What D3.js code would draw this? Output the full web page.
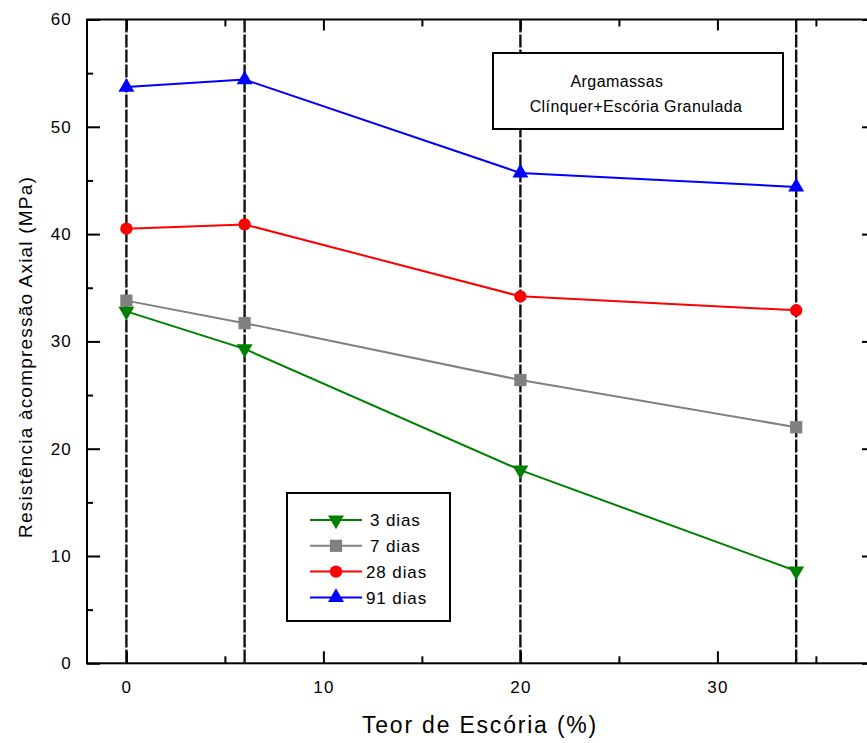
<!DOCTYPE html>
<html>
<head>
<meta charset="utf-8">
<script src="https://cdn.jsdelivr.net/npm/d3@7"></script>
<style>
  html, body { margin: 0; padding: 0; background: #fff; }
  svg { display: block; font-family: Arial, "Liberation Sans", sans-serif; }
</style>
</head>
<body>
<svg id="chart" width="867" height="743"></svg>
<script>
// Slag content (%) of each mortar mix
const slagContent = [0, 6, 20, 34];

// Axial compressive strength (MPa) by curing age
const days3  = [32.8, 29.3, 18.0, 8.6];
const days7  = [33.8, 31.7, 26.4, 22.0];
const days28 = [40.5, 40.9, 34.2, 32.9];
const days91 = [53.7, 54.4, 45.7, 44.4];

const seriesNames   = ["3 dias", "7 dias", "28 dias", "91 dias"];
const seriesColors  = ["#008000", "#808080", "#ff0000", "#0000ff"];
const seriesSymbols = ["triangleDown", "square", "circle", "triangleUp"];

const xMajorTicks = [0, 10, 20, 30];
const xMinorTicks = [5, 15, 25, 35];
const yMajorTicks = [0, 10, 20, 30, 40, 50, 60];
const yMinorTicks = [5, 15, 25, 35, 45, 55];

const titleLines = ["Argamassas", "Clínquer+Escória Granulada"];
const xTitle = "Teor de Escória (%)";
const yTitle = "Resistência àcompressão Axial (MPa)";

const svg = d3.select("#chart");
const plotLeft = 87, plotRight = 875, plotTop = 19.5, plotBottom = 663.3;

const x = d3.scaleLinear().domain([-2, 38]).range([plotLeft, plotRight]);
const y = d3.scaleLinear().domain([0, 60]).range([plotBottom, plotTop]);

// Vertical dashed guides at each mix composition
svg.append("g").selectAll("line")
  .data(slagContent)
  .join("line")
  .attr("x1", d => x(d)).attr("x2", d => x(d))
  .attr("y1", plotTop).attr("y2", plotBottom)
  .attr("stroke", "#111")
  .attr("stroke-width", 2.4)
  .attr("stroke-dasharray", "13,2");

// Frame
svg.append("rect")
  .attr("x", plotLeft).attr("y", plotTop)
  .attr("width", plotRight - plotLeft).attr("height", plotBottom - plotTop)
  .attr("fill", "none").attr("stroke", "#000").attr("stroke-width", 2);

function tickGroup(axisFn, scale, values, size, translate, withLabels) {
  const ax = axisFn(scale).tickValues(values).tickSize(size).tickSizeOuter(0);
  if (!withLabels) ax.tickFormat("");
  const g = svg.append("g").attr("transform", translate).call(ax);
  g.select(".domain").remove();
  g.selectAll(".tick line").attr("stroke", "#000").attr("stroke-width", 2);
  return g;
}

// Left axis (labelled) + minor ticks
const gl = tickGroup(d3.axisLeft, y, yMajorTicks, -13, `translate(${plotLeft},0)`, true);
gl.selectAll(".tick text").attr("x", -15).attr("font-size", 17).attr("letter-spacing", 1.2)
  .attr("fill", "#000").attr("font-family", "Arial, 'Liberation Sans', sans-serif");
tickGroup(d3.axisLeft, y, yMinorTicks, -6, `translate(${plotLeft},0)`, false);
// Right axis ticks
tickGroup(d3.axisRight, y, yMajorTicks, -13, `translate(${plotRight},0)`, false);
tickGroup(d3.axisRight, y, yMinorTicks, -6, `translate(${plotRight},0)`, false);
// Bottom axis (labelled) + minor ticks
const gb = tickGroup(d3.axisBottom, x, xMajorTicks, -12, `translate(0,${plotBottom})`, true);
gb.selectAll(".tick text").attr("y", 18).attr("dy", "0.71em").attr("font-size", 17).attr("letter-spacing", 1.2)
  .attr("fill", "#000").attr("font-family", "Arial, 'Liberation Sans', sans-serif");
tickGroup(d3.axisBottom, x, xMinorTicks, -7, `translate(0,${plotBottom})`, false);
// Top axis ticks
tickGroup(d3.axisTop, x, xMajorTicks, -11, `translate(0,${plotTop})`, false);
tickGroup(d3.axisTop, x, xMinorTicks, -7, `translate(0,${plotTop})`, false);

// Axis titles
svg.append("text")
  .attr("x", 480).attr("y", 733)
  .attr("text-anchor", "middle").attr("font-size", 23).attr("letter-spacing", 1.8)
  .text(xTitle);
svg.append("text")
  .attr("transform", `translate(32,357) rotate(-90)`)
  .attr("text-anchor", "middle").attr("font-size", 19).attr("letter-spacing", 1.2)
  .text(yTitle);

// Series
const allSeries = [days3, days7, days28, days91].map((vals, i) => ({
  name: seriesNames[i], color: seriesColors[i], symbol: seriesSymbols[i],
  points: vals.map((v, j) => ({ x: slagContent[j], y: v }))
}));

const line = d3.line().x(d => x(d.x)).y(d => y(d.y));

function symbolPath(kind) {
  if (kind === "square") return d3.symbol(d3.symbolSquare, 150)();
  if (kind === "circle") return d3.symbol(d3.symbolCircle, 120)();
  return d3.symbol(d3.symbolTriangle, 110)();
}
function symbolTransform(kind, px, py) {
  if (kind === "triangleDown") return `translate(${px},${py}) rotate(180)`;
  return `translate(${px},${py})`;
}

const gs = svg.append("g");
allSeries.forEach(s => {
  gs.append("path").datum(s.points)
    .attr("d", line).attr("fill", "none")
    .attr("stroke", s.color).attr("stroke-width", 2);
  gs.selectAll(null).data(s.points).join("path")
    .attr("d", symbolPath(s.symbol))
    .attr("transform", d => symbolTransform(s.symbol, x(d.x), y(d.y)))
    .attr("fill", s.color);
});

// Title box
svg.append("rect")
  .attr("x", 493).attr("y", 53).attr("width", 290).attr("height", 76)
  .attr("fill", "#fff").attr("stroke", "#000").attr("stroke-width", 2);
svg.append("text").attr("x", 617).attr("y", 87)
  .attr("text-anchor", "middle").attr("font-size", 16).attr("letter-spacing", 0.4).text(titleLines[0]);
svg.append("text").attr("x", 636).attr("y", 112)
  .attr("text-anchor", "middle").attr("font-size", 16).attr("letter-spacing", 0.4).text(titleLines[1]);

// Legend
const lg = svg.append("g");
lg.append("rect")
  .attr("x", 287).attr("y", 493).attr("width", 163).attr("height", 128)
  .attr("fill", "#fff").attr("stroke", "#000").attr("stroke-width", 2);
allSeries.forEach((s, i) => {
  const ly = 520 + i * 25.8;
  lg.append("line").attr("x1", 310).attr("x2", 362).attr("y1", ly).attr("y2", ly)
    .attr("stroke", s.color).attr("stroke-width", 2);
  lg.append("path").attr("d", symbolPath(s.symbol))
    .attr("transform", symbolTransform(s.symbol, 336, ly)).attr("fill", s.color);
  lg.append("text").attr("x", s.name.length < 7 ? 370 : 366).attr("y", ly).attr("dy", "0.36em")
    .attr("font-size", 17).attr("letter-spacing", 0.9).text(s.name);
});
</script>
</body>
</html>
